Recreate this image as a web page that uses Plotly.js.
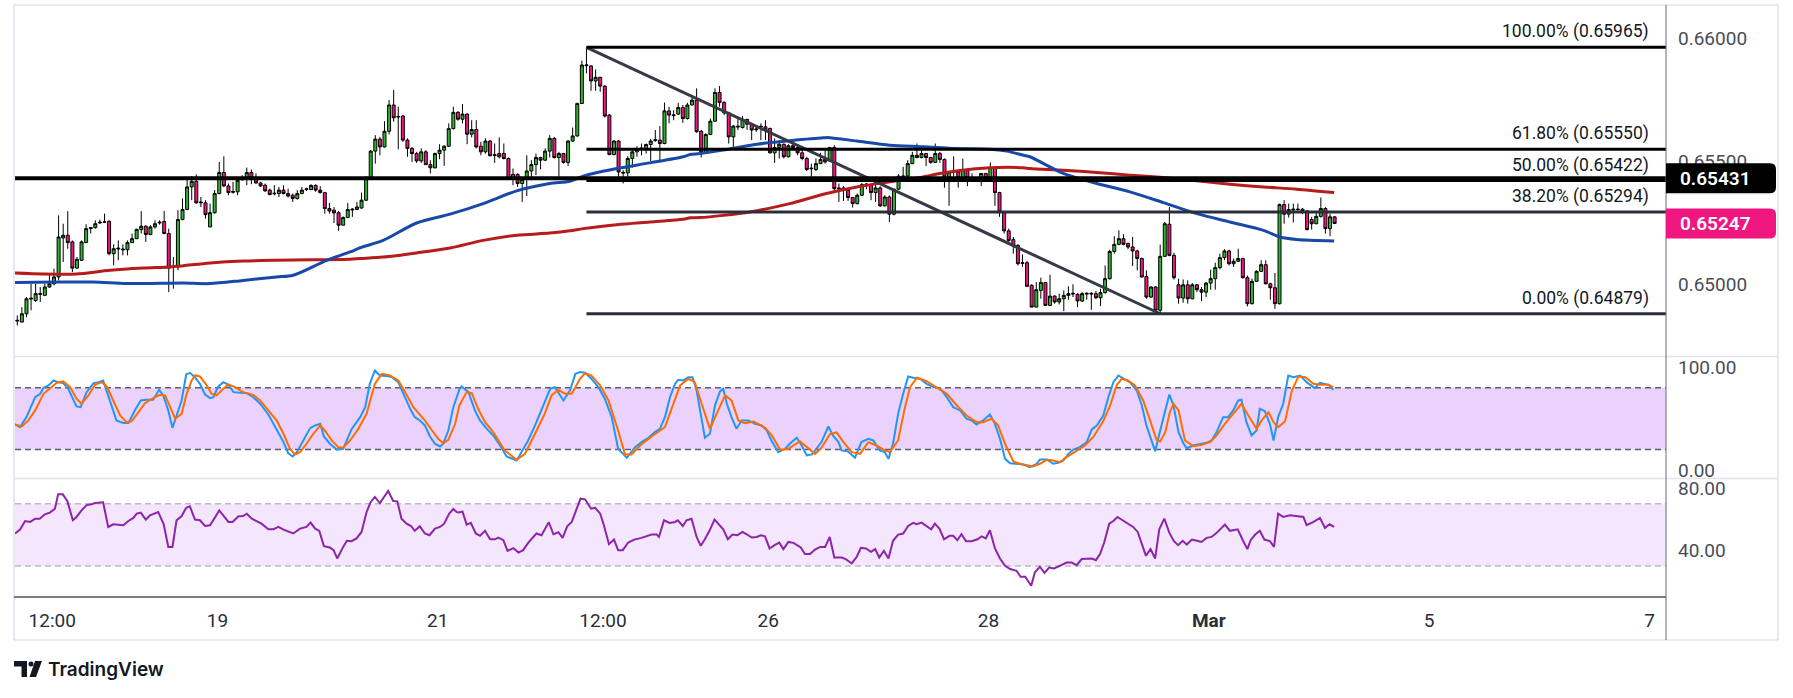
<!DOCTYPE html>
<html><head><meta charset="utf-8">
<script src="https://cdn.plot.ly/plotly-3.0.1.min.js"></script>
<style>html,body{margin:0;padding:0;background:#fff;overflow:hidden}#chart{width:1793px;height:698px}</style>
</head><body><div id="chart"></div>
<script>
// ---------------- DATA ----------------
// hourly candles, x = bar index
const open = [
0.64849,0.64845,0.64879,0.64939,0.64933,0.64958,0.64954,0.64988,0.65001,0.65029,
0.65188,0.65199,0.65172,0.65065,0.65097,0.65169,0.65226,0.65230,0.65249,0.65252,
0.65256,0.65124,0.65143,0.65143,0.65140,0.65169,0.65185,0.65222,0.65236,0.65202,
0.65233,0.65249,0.65255,0.65206,0.65068,0.65070,0.65263,0.65304,0.65396,0.65419,
0.65331,0.65331,0.65233,0.65291,0.65369,0.65455,0.65400,0.65374,0.65376,0.65425,
0.65430,0.65455,0.65430,0.65412,0.65403,0.65383,0.65368,0.65369,0.65383,0.65369,
0.65362,0.65349,0.65369,0.65385,0.65385,0.65402,0.65383,0.65373,0.65308,0.65301,
0.65291,0.65240,0.65271,0.65302,0.65304,0.65310,0.65342,0.65430,0.65542,0.65591,
0.65559,0.65623,0.65730,0.65681,0.65685,0.65587,0.65553,0.65532,0.65502,0.65539,
0.65487,0.65474,0.65532,0.65546,0.65562,0.65634,0.65700,0.65672,0.65693,0.65611,
0.65630,0.65562,0.65539,0.65583,0.65524,0.65532,0.65532,0.65512,0.65447,0.65447,
0.65410,0.65426,0.65461,0.65487,0.65516,0.65505,0.65542,0.65594,0.65516,0.65532,
0.65496,0.65583,0.65604,0.65736,0.65890,0.65889,0.65828,0.65843,0.65807,0.65689,
0.65528,0.65583,0.65452,0.65453,0.65512,0.65539,0.65551,0.65553,0.65569,0.65585,
0.65587,0.65573,0.65706,0.65690,0.65693,0.65720,0.65675,0.65730,0.65750,0.65623,
0.65535,0.65610,0.65664,0.65781,0.65740,0.65698,0.65600,0.65640,0.65638,0.65671,
0.65652,0.65629,0.65640,0.65641,0.65634,0.65535,0.65557,0.65570,0.65519,0.65564,
0.65557,0.65535,0.65512,0.65470,0.65467,0.65491,0.65508,0.65502,0.65557,0.65388,
0.65392,0.65383,0.65353,0.65328,0.65362,0.65404,0.65403,0.65373,0.65392,0.65319,
0.65355,0.65285,0.65387,0.65438,0.65440,0.65491,0.65525,0.65516,0.65532,0.65516,
0.65496,0.65532,0.65508,0.65437,0.65456,0.65457,0.65434,0.65467,0.65432,0.65433,
0.65433,0.65451,0.65433,0.65475,0.65373,0.65294,0.65217,0.65181,0.65158,0.65084,
0.65087,0.64995,0.64906,0.64974,0.65006,0.64913,0.64951,0.64927,0.64940,0.64954,
0.64959,0.64958,0.64931,0.64959,0.64959,0.64961,0.64944,0.64965,0.65022,0.65133,
0.65162,0.65185,0.65165,0.65151,0.65135,0.65104,0.65031,0.64947,0.64988,0.64893,
0.65113,0.65244,0.65117,0.64997,0.64943,0.64997,0.64940,0.64997,0.64977,0.64967,
0.65004,0.65022,0.65067,0.65108,0.65135,0.65083,0.65093,0.65104,0.65026,0.64920,
0.65011,0.65052,0.65079,0.65001,0.64985,0.64920,0.65324,0.65285,0.65302,0.65304,
0.65305,0.65298,0.65263,0.65246,0.65276,0.65308,0.65226,0.65274];
const high = [
0.64872,0.64906,0.64947,0.65001,0.65001,0.64988,0.65001,0.65042,0.65063,0.65280,
0.65246,0.65297,0.65178,0.65110,0.65178,0.65244,0.65233,0.65260,0.65263,0.65287,
0.65260,0.65162,0.65178,0.65162,0.65178,0.65206,0.65226,0.65297,0.65240,0.65240,
0.65260,0.65260,0.65298,0.65226,0.65110,0.65301,0.65349,0.65437,0.65440,0.65447,
0.65355,0.65342,0.65328,0.65383,0.65498,0.65521,0.65410,0.65417,0.65426,0.65444,
0.65475,0.65467,0.65451,0.65417,0.65410,0.65389,0.65403,0.65396,0.65403,0.65389,
0.65369,0.65383,0.65396,0.65393,0.65407,0.65407,0.65399,0.65376,0.65331,0.65314,
0.65298,0.65276,0.65331,0.65310,0.65335,0.65373,0.65440,0.65546,0.65607,0.65600,
0.65664,0.65750,0.65791,0.65723,0.65689,0.65594,0.65559,0.65539,0.65553,0.65546,
0.65505,0.65536,0.65570,0.65566,0.65655,0.65723,0.65705,0.65734,0.65696,0.65668,
0.65668,0.65580,0.65594,0.65587,0.65573,0.65598,0.65573,0.65516,0.65471,0.65451,
0.65437,0.65525,0.65505,0.65532,0.65519,0.65553,0.65607,0.65600,0.65539,0.65535,
0.65587,0.65638,0.65740,0.65911,0.65965,0.65893,0.65875,0.65845,0.65811,0.65693,
0.65587,0.65587,0.65464,0.65521,0.65546,0.65562,0.65573,0.65573,0.65592,0.65628,
0.65644,0.65740,0.65723,0.65709,0.65739,0.65730,0.65739,0.65764,0.65798,0.65628,
0.65614,0.65675,0.65798,0.65807,0.65747,0.65702,0.65648,0.65682,0.65685,0.65675,
0.65655,0.65648,0.65655,0.65668,0.65638,0.65594,0.65587,0.65573,0.65570,0.65589,
0.65570,0.65546,0.65519,0.65491,0.65512,0.65535,0.65553,0.65559,0.65566,0.65410,
0.65399,0.65385,0.65355,0.65369,0.65412,0.65412,0.65407,0.65410,0.65399,0.65362,
0.65362,0.65389,0.65448,0.65478,0.65505,0.65539,0.65573,0.65553,0.65535,0.65519,
0.65573,0.65539,0.65512,0.65461,0.65521,0.65464,0.65512,0.65471,0.65451,0.65436,
0.65453,0.65453,0.65496,0.65481,0.65376,0.65298,0.65226,0.65192,0.65162,0.65121,
0.65094,0.64999,0.65008,0.65026,0.65008,0.65038,0.64954,0.64961,0.64974,0.64991,
0.64999,0.64963,0.64967,0.64967,0.64967,0.64972,0.64981,0.65076,0.65140,0.65195,
0.65219,0.65203,0.65169,0.65192,0.65140,0.65108,0.65056,0.64991,0.64992,0.65161,
0.65253,0.65314,0.65128,0.65022,0.65019,0.65015,0.65004,0.65001,0.64988,0.65008,
0.65059,0.65087,0.65124,0.65142,0.65140,0.65104,0.65144,0.65108,0.65035,0.65022,
0.65056,0.65097,0.65097,0.65006,0.65045,0.65328,0.65342,0.65328,0.65328,0.65328,
0.65310,0.65301,0.65274,0.65291,0.65353,0.65314,0.65287,0.65276];
const low = [
0.64831,0.64844,0.64865,0.64893,0.64927,0.64927,0.64954,0.64985,0.64995,0.65015,
0.65090,0.65144,0.65049,0.65063,0.65094,0.65168,0.65206,0.65226,0.65246,0.65249,
0.65117,0.65076,0.65097,0.65117,0.65117,0.65168,0.65184,0.65206,0.65172,0.65199,
0.65226,0.65242,0.65203,0.64967,0.64981,0.65056,0.65260,0.65301,0.65342,0.65328,
0.65314,0.65267,0.65233,0.65287,0.65366,0.65396,0.65362,0.65369,0.65362,0.65423,
0.65403,0.65407,0.65410,0.65396,0.65376,0.65362,0.65362,0.65355,0.65366,0.65353,
0.65335,0.65344,0.65366,0.65380,0.65383,0.65376,0.65369,0.65287,0.65287,0.65249,
0.65217,0.65240,0.65270,0.65274,0.65301,0.65308,0.65338,0.65426,0.65491,0.65525,
0.65557,0.65610,0.65662,0.65549,0.65580,0.65519,0.65498,0.65494,0.65494,0.65485,
0.65451,0.65471,0.65509,0.65482,0.65559,0.65630,0.65666,0.65655,0.65570,0.65598,
0.65553,0.65525,0.65532,0.65521,0.65494,0.65512,0.65508,0.65427,0.65403,0.65396,
0.65335,0.65359,0.65423,0.65444,0.65468,0.65502,0.65516,0.65512,0.65437,0.65491,
0.65481,0.65580,0.65600,0.65734,0.65859,0.65788,0.65788,0.65784,0.65679,0.65525,
0.65525,0.65437,0.65410,0.65437,0.65475,0.65519,0.65525,0.65532,0.65502,0.65580,
0.65498,0.65570,0.65655,0.65668,0.65689,0.65657,0.65671,0.65728,0.65617,0.65516,
0.65532,0.65607,0.65662,0.65723,0.65689,0.65573,0.65546,0.65628,0.65634,0.65628,
0.65587,0.65621,0.65587,0.65587,0.65532,0.65494,0.65512,0.65512,0.65516,0.65553,
0.65525,0.65505,0.65461,0.65437,0.65461,0.65489,0.65491,0.65498,0.65376,0.65335,
0.65339,0.65339,0.65312,0.65325,0.65359,0.65387,0.65342,0.65335,0.65314,0.65316,
0.65253,0.65280,0.65383,0.65423,0.65437,0.65489,0.65512,0.65512,0.65481,0.65491,
0.65494,0.65494,0.65393,0.65319,0.65437,0.65393,0.65433,0.65399,0.65429,0.65430,
0.65400,0.65430,0.65430,0.65319,0.65274,0.65206,0.65162,0.65124,0.65076,0.65070,
0.64988,0.64906,0.64906,0.64940,0.64910,0.64910,0.64920,0.64917,0.64890,0.64936,
0.64947,0.64906,0.64927,0.64936,0.64895,0.64940,0.64910,0.64961,0.65018,0.65124,
0.65158,0.65158,0.65142,0.65074,0.65056,0.65026,0.64940,0.64944,0.64879,0.64879,
0.65110,0.65113,0.65018,0.64920,0.64924,0.64920,0.64938,0.64967,0.64931,0.64947,
0.64977,0.64977,0.65060,0.65097,0.65076,0.65070,0.65090,0.65022,0.64909,0.64917,
0.65008,0.65049,0.64999,0.64936,0.64899,0.64917,0.65246,0.65271,0.65251,0.65298,
0.65285,0.65219,0.65222,0.65244,0.65271,0.65206,0.65195,0.65246];
const close = [
0.64852,0.64879,0.64940,0.64942,0.64961,0.64961,0.64988,0.65001,0.65029,0.65192,
0.65199,0.65169,0.65065,0.65101,0.65172,0.65226,0.65230,0.65246,0.65252,0.65253,
0.65124,0.65144,0.65146,0.65140,0.65169,0.65185,0.65223,0.65236,0.65202,0.65233,
0.65246,0.65252,0.65206,0.65065,0.65071,0.65263,0.65304,0.65396,0.65419,0.65331,
0.65334,0.65283,0.65291,0.65369,0.65455,0.65400,0.65373,0.65377,0.65423,0.65427,
0.65455,0.65433,0.65412,0.65400,0.65380,0.65365,0.65370,0.65383,0.65369,0.65359,
0.65349,0.65369,0.65383,0.65388,0.65402,0.65383,0.65373,0.65308,0.65298,0.65290,
0.65240,0.65271,0.65304,0.65305,0.65314,0.65342,0.65430,0.65542,0.65591,0.65559,
0.65623,0.65730,0.65678,0.65683,0.65587,0.65553,0.65532,0.65502,0.65539,0.65487,
0.65474,0.65532,0.65546,0.65562,0.65634,0.65700,0.65672,0.65693,0.65611,0.65630,
0.65559,0.65539,0.65583,0.65523,0.65527,0.65519,0.65512,0.65430,0.65430,0.65410,
0.65426,0.65461,0.65487,0.65516,0.65505,0.65542,0.65594,0.65516,0.65532,0.65496,
0.65583,0.65604,0.65736,0.65893,0.65893,0.65828,0.65843,0.65807,0.65685,0.65528,
0.65583,0.65457,0.65455,0.65512,0.65539,0.65549,0.65554,0.65569,0.65583,0.65588,
0.65573,0.65706,0.65689,0.65687,0.65720,0.65675,0.65730,0.65750,0.65621,0.65535,
0.65610,0.65664,0.65781,0.65740,0.65698,0.65600,0.65644,0.65643,0.65672,0.65652,
0.65628,0.65632,0.65643,0.65628,0.65535,0.65557,0.65570,0.65519,0.65564,0.65557,
0.65535,0.65512,0.65467,0.65472,0.65491,0.65508,0.65498,0.65557,0.65389,0.65391,
0.65383,0.65353,0.65328,0.65362,0.65406,0.65407,0.65373,0.65392,0.65319,0.65355,
0.65285,0.65387,0.65440,0.65440,0.65491,0.65525,0.65516,0.65532,0.65516,0.65496,
0.65532,0.65508,0.65437,0.65457,0.65459,0.65434,0.65467,0.65433,0.65434,0.65434,
0.65451,0.65433,0.65475,0.65373,0.65294,0.65217,0.65178,0.65158,0.65083,0.65087,
0.64991,0.64906,0.64977,0.65006,0.64913,0.64951,0.64927,0.64940,0.64954,0.64961,
0.64962,0.64931,0.64961,0.64962,0.64962,0.64944,0.64965,0.65022,0.65133,0.65162,
0.65185,0.65162,0.65151,0.65135,0.65104,0.65029,0.64947,0.64988,0.64893,0.65113,
0.65246,0.65117,0.65026,0.64943,0.64997,0.64940,0.64997,0.64977,0.64967,0.65004,
0.65022,0.65067,0.65108,0.65135,0.65083,0.65093,0.65104,0.65026,0.64920,0.65011,
0.65052,0.65079,0.65001,0.64985,0.64920,0.65324,0.65285,0.65304,0.65305,0.65305,
0.65298,0.65222,0.65246,0.65276,0.65308,0.65226,0.65274,0.65247];

// moving averages (blue = faster, red = slower), sampled along the curve
const maFastX = [-0.5,9.3,16.6,23.8,31.1,36.2,42.0,49.2,56.5,60.1,67.4,72.5,74.7,79.7,87.0,94.3,101.5,108.8,116.0,120.4,123.3,130.6,137.8,145.1,146.6,148.7,153.8,161.1,168.3,175.6,177.0,182.9,190.1,197.4,204.6,211.9,215.6,219.2,220.6,227.9,235.2,242.4,249.7,257.0,264.2,271.5,275.1,278.7,286.9];
const maFast = [0.65006,0.65008,0.65008,0.65002,0.65003,0.65004,0.65002,0.65015,0.65029,0.65036,0.65097,0.65131,0.65148,0.65178,0.65249,0.65285,0.65328,0.65380,0.65410,0.65419,0.65440,0.65471,0.65494,0.65519,0.65528,0.65532,0.65546,0.65570,0.65584,0.65596,0.65597,0.65583,0.65566,0.65560,0.65553,0.65550,0.65542,0.65525,0.65519,0.65451,0.65410,0.65376,0.65332,0.65287,0.65253,0.65219,0.65192,0.65182,0.65176];
const maSlowX = [-0.5,5.7,12.9,20.2,27.5,33.3,36.2,42.0,49.2,56.5,63.8,72.5,74.7,79.7,87.0,94.3,101.5,108.8,116.0,120.4,123.3,130.6,137.8,145.1,146.6,148.7,153.8,159.6,168.3,175.6,182.9,190.1,197.4,201.0,204.6,211.9,219.2,220.6,227.9,235.2,242.4,249.7,257.0,264.2,271.5,278.7,286.9];
const maSlow = [0.65045,0.65041,0.65041,0.65056,0.65065,0.65070,0.65075,0.65086,0.65094,0.65097,0.65099,0.65101,0.65104,0.65110,0.65127,0.65147,0.65178,0.65199,0.65208,0.65217,0.65226,0.65242,0.65253,0.65264,0.65270,0.65271,0.65280,0.65294,0.65328,0.65366,0.65396,0.65417,0.65437,0.65451,0.65461,0.65474,0.65474,0.65471,0.65464,0.65455,0.65444,0.65434,0.65421,0.65407,0.65396,0.65387,0.65373];

// Fibonacci retracement drawing
const fibPct = [100, 61.8, 50, 38.2, 0];
const fibLevel = [0.65965, 0.65550, 0.65422, 0.65294, 0.64879];
const fibStart = 124;
// trend line drawing
const trendX = [124, 249];
const trendY = [0.65965, 0.64879];
// horizontal level + last price
const hLevel = 0.65431;
const lastPrice = 0.65247;

// Stochastic %K / %D  [bar, value]
const stochK = [[-0.5,44.4],[0.6,41.8],[2.0,51.5],[3.9,70.9],[5.0,74.2],[5.7,80.0],[6.8,82.3],[7.9,87.2],[8.9,85.5],[10.0,84.6],[11.1,79.0],[12.9,61.9],[13.8,61.2],[15.1,75.8],[16.6,84.6],[17.7,85.5],[18.7,87.2],[20.2,67.7],[21.6,48.3],[23.1,45.7],[24.2,45.7],[25.6,58.0],[26.9,67.7],[28.2,68.4],[29.6,68.4],[30.9,78.1],[31.8,72.6],[32.9,58.0],[33.8,41.1],[34.7,53.1],[35.8,67.7],[36.8,93.0],[37.6,94.6],[38.7,90.4],[39.8,83.9],[40.9,73.5],[42.0,70.0],[42.7,71.0],[43.8,81.3],[44.9,85.5],[46.0,82.9],[47.1,75.8],[48.5,75.2],[50.0,74.8],[51.4,70.9],[52.9,64.5],[54.7,54.1],[56.5,40.1],[58.0,27.2],[59.0,16.5],[60.0,13.2],[60.9,17.4],[62.3,28.8],[63.8,40.8],[64.9,43.4],[66.0,45.0],[66.8,32.7],[68.1,25.6],[69.6,20.0],[71.0,20.7],[72.8,39.5],[74.7,51.5],[75.8,61.2],[76.8,83.9],[77.9,96.9],[79.0,92.0],[80.5,91.4],[81.6,90.4],[83.0,85.5],[84.1,74.2],[85.6,59.6],[86.6,51.5],[87.7,48.3],[88.8,43.4],[89.9,32.7],[91.0,25.6],[92.1,23.0],[92.8,25.6],[93.9,38.5],[95.0,61.2],[96.3,78.1],[96.8,81.3],[98.3,75.8],[99.7,58.0],[100.8,48.3],[102.3,40.1],[103.7,33.7],[105.2,23.9],[106.6,13.2],[108.8,9.3],[109.9,17.4],[111.3,28.8],[112.8,43.4],[114.2,58.0],[116.1,79.0],[117.1,80.7],[119.0,67.7],[120.4,77.4],[121.6,93.6],[122.6,95.3],[123.7,94.6],[125.1,88.8],[126.6,80.7],[128.0,69.4],[129.5,51.5],[130.9,20.7],[132.8,11.9],[134.6,22.3],[136.0,27.2],[137.5,31.4],[138.9,36.9],[140.0,40.1],[141.1,51.5],[142.2,70.9],[143.3,83.9],[144.0,87.8],[145.1,87.2],[146.2,90.4],[147.1,90.4],[148.0,77.4],[149.1,51.5],[149.8,31.4],[150.9,35.3],[152.0,62.8],[153.1,76.5],[153.8,79.0],[154.6,64.5],[155.6,51.5],[156.7,40.1],[157.8,48.3],[159.3,48.3],[160.7,45.0],[162.2,43.4],[163.3,38.5],[164.3,28.8],[165.8,17.4],[167.3,20.7],[168.3,25.6],[169.8,31.4],[170.9,23.9],[172.0,14.2],[173.1,15.2],[174.1,20.7],[175.2,27.2],[176.7,42.4],[177.7,33.7],[178.9,27.2],[179.6,19.1],[181.0,18.1],[182.5,11.9],[183.9,27.2],[185.4,30.4],[186.5,28.8],[187.9,19.1],[189.0,17.4],[189.8,10.9],[190.8,25.6],[191.9,54.7],[193.0,74.2],[194.1,91.0],[195.2,89.8],[196.7,88.8],[198.1,83.9],[199.6,80.7],[201.0,79.7],[202.5,70.9],[203.9,61.2],[205.4,58.0],[206.8,49.9],[207.9,48.3],[209.0,44.4],[210.4,48.3],[211.9,54.1],[213.0,45.0],[214.1,30.4],[215.2,10.9],[216.3,6.7],[217.7,6.1],[219.2,5.4],[220.6,2.9],[222.1,6.1],[222.8,10.3],[224.3,10.3],[225.7,6.1],[226.8,7.1],[227.9,9.3],[229.0,15.8],[230.1,20.0],[231.5,22.3],[233.0,27.2],[234.1,39.5],[235.2,43.4],[236.6,53.1],[237.7,70.9],[238.8,85.5],[239.9,92.0],[241.0,88.8],[242.4,85.5],[243.9,77.4],[245.0,62.8],[246.0,43.4],[247.1,28.8],[247.9,18.4],[249.0,38.5],[250.1,58.0],[251.0,73.5],[251.9,62.8],[253.0,36.9],[254.1,25.6],[254.8,21.3],[256.2,23.9],[257.7,24.9],[259.1,26.5],[260.2,28.8],[261.3,36.9],[262.7,51.5],[263.8,51.5],[264.9,58.0],[266.0,67.7],[266.7,68.4],[267.8,46.6],[268.9,33.7],[270.0,38.5],[270.7,59.6],[271.8,57.3],[272.9,45.0],[273.7,28.8],[274.7,51.5],[275.8,64.5],[276.9,92.0],[278.0,90.4],[279.5,92.0],[280.9,85.5],[282.7,79.7],[283.8,84.9],[285.7,82.9],[286.7,78.1]];
const stochD = [[-0.5,44.4],[1.0,42.4],[2.4,48.3],[3.9,58.0],[5.7,74.2],[7.1,79.7],[8.6,84.9],[10.0,86.2],[11.5,80.7],[12.9,69.4],[14.0,64.5],[15.5,72.6],[16.9,82.9],[18.4,85.5],[19.5,81.3],[20.9,67.7],[22.4,53.1],[23.8,46.6],[24.9,47.3],[26.4,56.3],[27.8,65.1],[29.6,70.0],[31.1,73.2],[32.2,72.6],[33.3,61.2],[34.4,49.9],[35.8,54.7],[36.9,74.2],[38.0,87.2],[38.7,92.0],[39.8,91.0],[41.3,82.3],[42.3,74.2],[43.4,72.6],[44.9,79.0],[46.0,83.3],[47.4,80.7],[49.2,75.8],[51.4,73.2],[52.9,67.7],[55.0,56.3],[56.5,48.3],[58.0,35.3],[59.4,20.7],[60.5,15.2],[61.6,17.4],[63.0,25.6],[64.5,35.3],[66.0,43.4],[67.0,38.5],[68.5,28.8],[69.9,22.3],[71.0,21.7],[72.5,28.8],[74.3,40.1],[76.1,54.7],[77.9,83.9],[79.4,93.6],[81.2,92.0],[83.0,87.2],[84.5,75.8],[86.3,61.2],[88.5,49.9],[89.9,41.8],[91.7,30.4],[92.8,26.2],[93.9,29.4],[95.4,45.0],[96.3,62.8],[97.9,75.8],[99.0,74.8],[100.4,59.6],[101.9,46.6],[103.7,36.9],[106.2,19.1],[108.8,10.0],[110.6,15.8],[112.8,35.3],[114.9,54.7],[116.4,72.6],[117.9,78.1],[119.3,74.2],[120.8,74.2],[122.6,88.8],[123.7,94.3],[125.1,92.0],[127.0,82.3],[128.8,67.7],[130.9,38.5],[132.4,15.2],[133.8,15.2],[135.7,23.9],[138.2,32.7],[141.1,41.8],[142.9,62.8],[144.4,82.3],[146.2,88.8],[147.6,85.5],[149.1,64.5],[150.9,40.1],[152.7,58.0],[154.2,72.6],[155.6,67.7],[157.1,48.3],[158.5,45.7],[160.4,47.3],[162.9,41.1],[164.4,33.7],[166.2,19.7],[168.0,20.7],[170.5,28.1],[172.4,20.7],[173.8,15.8],[175.2,21.7],[177.1,35.3],[178.5,36.6],[180.0,27.2],[181.8,17.4],[183.6,15.8],[185.4,27.2],[187.2,23.9],[189.0,19.1],[190.1,17.4],[191.9,28.8],[193.4,61.2],[194.5,80.7],[196.0,89.8],[198.1,86.5],[200.3,80.7],[202.5,74.2],[204.7,62.8],[206.8,53.1],[209.0,46.6],[210.4,46.6],[212.3,49.9],[213.7,43.4],[215.2,25.6],[217.0,8.4],[218.4,6.1],[219.9,5.1],[221.3,3.5],[222.8,6.1],[224.3,10.0],[225.7,9.3],[227.2,7.7],[228.6,12.6],[230.8,19.1],[232.6,23.9],[234.4,32.0],[236.6,47.6],[238.1,62.8],[239.5,82.3],[240.6,88.8],[242.0,87.2],[243.5,82.3],[245.3,67.7],[246.8,48.3],[248.2,29.4],[249.0,27.8],[250.1,36.9],[251.1,56.3],[251.9,64.5],[253.0,58.0],[254.4,28.8],[256.2,23.3],[258.0,24.6],[259.9,27.2],[261.3,33.7],[263.1,45.0],[264.9,54.7],[266.7,64.5],[268.2,53.1],[270.0,40.1],[271.1,48.3],[272.6,56.3],[273.7,46.6],[274.7,41.8],[276.2,47.3],[277.7,77.4],[279.1,91.0],[280.6,90.4],[282.4,83.9],[283.8,82.9],[285.7,82.9],[286.7,80.7]];
// RSI [bar, value]
const rsi = [[-0.5,50.9],[0.6,53.4],[1.7,58.9],[2.8,58.3],[3.9,60.4],[4.9,60.4],[6.0,63.2],[7.1,64.3],[8.2,66.8],[8.9,76.0],[9.9,76.0],[10.9,71.7],[12.1,59.4],[12.9,61.5],[14.0,65.7],[15.1,69.1],[16.2,69.6],[16.9,70.4],[18.7,70.9],[19.8,55.1],[20.9,56.8],[23.1,56.2],[24.2,58.9],[25.3,60.9],[26.0,63.6],[26.9,64.3],[28.0,59.8],[28.9,62.6],[30.7,64.7],[31.9,56.8],[32.9,42.3],[33.8,42.3],[34.7,59.4],[35.8,62.1],[36.8,67.4],[37.6,68.3],[38.7,59.8],[39.8,59.4],[40.9,55.7],[42.0,56.2],[44.0,65.7],[44.9,62.1],[46.0,58.3],[46.9,58.3],[48.2,61.9],[49.2,62.1],[50.0,63.6],[51.1,60.4],[52.1,58.9],[53.2,57.2],[54.7,53.6],[55.8,53.6],[56.9,55.1],[58.0,53.4],[60.1,50.9],[61.6,54.0],[63.0,55.1],[63.9,57.9],[64.9,54.0],[65.8,52.6],[66.8,42.8],[68.1,41.9],[68.9,40.2],[69.7,34.9],[71.0,42.3],[71.8,46.2],[72.8,46.0],[73.9,47.7],[75.0,51.9],[76.1,64.7],[77.0,71.1],[77.9,74.3],[79.0,70.4],[80.8,78.1],[81.9,71.7],[82.8,71.5],[83.7,60.4],[84.8,57.2],[85.8,55.7],[86.6,52.6],[87.7,55.5],[88.8,50.9],[89.8,49.8],[91.0,54.0],[92.1,55.1],[93.0,57.2],[94.1,63.6],[95.0,66.6],[95.7,64.7],[96.1,64.3],[97.0,64.9],[97.9,56.6],[98.8,57.7],[99.9,50.9],[100.8,49.4],[101.9,52.6],[103.0,47.2],[104.1,47.2],[104.8,48.3],[105.9,46.6],[106.8,39.8],[108.1,41.5],[109.2,38.7],[110.2,40.2],[111.3,44.9],[113.1,50.9],[114.2,49.8],[115.8,58.1],[116.8,50.4],[117.9,51.7],[118.8,48.1],[119.8,55.5],[120.8,58.3],[121.9,66.4],[122.7,73.2],[123.7,72.8],[125.0,66.8],[125.9,67.4],[127.0,63.6],[127.8,56.2],[128.9,44.0],[130.0,47.0],[130.9,40.2],[131.9,40.2],[133.1,45.1],[134.4,47.0],[136.0,48.1],[138.2,50.2],[139.3,50.2],[139.8,48.7],[140.9,59.4],[142.1,57.7],[143.3,58.3],[143.9,59.4],[145.0,55.7],[145.8,59.4],[146.9,60.4],[148.0,48.7],[148.9,43.0],[149.8,47.2],[150.8,52.6],[151.9,59.8],[152.7,57.2],[153.8,53.6],[154.8,47.2],[155.8,50.2],[156.9,49.8],[158.0,51.9],[158.9,50.4],[160.0,48.3],[161.1,48.7],[162.0,49.8],[162.9,49.1],[163.9,41.3],[165.0,43.4],[166.0,45.1],[166.9,40.9],[168.0,45.5],[169.1,44.9],[170.7,41.9],[171.6,37.7],[172.7,37.7],[173.8,40.6],[174.9,42.3],[176.0,42.3],[177.0,48.7],[178.0,35.5],[179.6,35.5],[180.5,34.5],[181.8,31.7],[182.9,36.0],[183.8,41.7],[184.9,41.3],[186.0,39.1],[186.9,40.9],[187.8,35.5],[188.8,39.8],[189.8,34.9],[190.8,46.2],[191.9,50.2],[193.0,50.9],[194.1,55.7],[195.2,57.7],[195.9,56.8],[197.0,57.9],[198.1,55.7],[199.1,53.6],[199.9,57.2],[200.9,54.0],[201.9,47.2],[203.1,49.4],[203.9,49.4],[204.8,46.6],[205.7,50.4],[206.7,46.0],[207.9,46.0],[209.2,47.2],[210.1,49.1],[211.0,47.7],[211.9,53.0],[213.0,41.3],[214.1,34.9],[215.2,30.2],[216.3,28.1],[217.7,27.0],[218.6,23.2],[219.6,23.2],[220.9,17.4],[221.7,26.0],[222.8,29.6],[223.8,25.7],[224.8,29.1],[225.9,28.5],[227.0,30.0],[228.6,32.3],[229.7,32.3],[230.8,30.6],[231.9,34.5],[233.0,34.5],[234.1,34.9],[235.0,33.8],[235.9,37.7],[236.8,45.1],[237.9,57.2],[238.8,58.9],[239.7,61.5],[240.8,59.4],[242.1,57.2],[243.1,55.1],[244.1,51.9],[245.0,44.9],[245.9,36.6],[246.9,40.9],[247.9,34.9],[248.8,53.6],[249.9,60.4],[251.0,51.3],[252.0,46.0],[252.9,43.4],[253.9,46.2],[254.8,43.8],[255.9,47.0],[257.0,46.2],[258.0,45.5],[259.1,48.1],[260.2,48.7],[261.3,51.3],[262.4,54.5],[263.1,56.6],[264.2,52.6],[265.9,53.6],[267.0,46.6],[268.0,40.9],[268.7,46.6],[269.7,50.2],[270.7,52.6],[271.7,47.0],[272.9,46.0],[273.8,42.3],[274.7,63.6],[275.8,61.5],[277.3,62.6],[279.1,62.1],[280.2,61.5],[280.9,56.2],[282.4,58.3],[283.8,60.9],[284.9,54.5],[285.9,56.8],[286.9,55.1]];

// axis ticks
const priceTicks = [0.65000, 0.65500, 0.66000];
const stochTicks = [0, 100];
const rsiTicks = [40, 80];
const timeTickBars = [7.6, 43.6, 91.6, 127.6, 163.6, 211.6, 259.6, 307.6, 355.6];
const timeTickLabels = ['12:00', '19', '21', '12:00', '26', '28', '<b>Mar</b>', '5', '7'];

// ---------------- LAYOUT / STYLE ----------------
const W = 1793, H = 698;
const PX = v => v / W, PY = v => 1 - v / H;
const LEFT = 15, RIGHT = 1666, FRAME_R = 1778, TOP = 5, MAIN_B = 356.5, ST_B = 478.5, RSI_B = 597, BOTTOM = 640;
const XR = [-0.5, 359.2];
const GREEN = '#2db52d', PINK = '#f0167f';
const TXT = '#4a4d57';
const FONT = 'Roboto, "Noto Sans", sans-serif';

const bars = close.map((_, i) => i);
const traces = [
  {type: 'candlestick', x: bars, open: open, high: high, low: low, close: close,
   xaxis: 'x', yaxis: 'y',
   increasing: {line: {color: '#000', width: 1}, fillcolor: GREEN},
   decreasing: {line: {color: '#000', width: 1}, fillcolor: PINK},
   whiskerwidth: 0, hoverinfo: 'skip', showlegend: false},
  {type: 'scatter', mode: 'lines', x: maSlowX, y: maSlow, xaxis: 'x', yaxis: 'y',
   line: {color: '#b71c1c', width: 3, shape: 'spline', smoothing: 0.8}, hoverinfo: 'skip', showlegend: false},
  {type: 'scatter', mode: 'lines', x: maFastX, y: maFast, xaxis: 'x', yaxis: 'y',
   line: {color: '#1848a8', width: 3, shape: 'spline', smoothing: 0.8}, hoverinfo: 'skip', showlegend: false},
  {type: 'scatter', mode: 'lines', x: trendX, y: trendY, xaxis: 'x', yaxis: 'y',
   line: {color: '#363a45', width: 3}, hoverinfo: 'skip', showlegend: false},
  {type: 'scatter', mode: 'lines', x: stochK.map(p => p[0]), y: stochK.map(p => p[1]), xaxis: 'x2', yaxis: 'y2',
   line: {color: '#2196f3', width: 2}, hoverinfo: 'skip', showlegend: false},
  {type: 'scatter', mode: 'lines', x: stochD.map(p => p[0]), y: stochD.map(p => p[1]), xaxis: 'x2', yaxis: 'y2',
   line: {color: '#ff6d00', width: 2}, hoverinfo: 'skip', showlegend: false},
  {type: 'scatter', mode: 'lines', x: rsi.map(p => p[0]), y: rsi.map(p => p[1]), xaxis: 'x3', yaxis: 'y3',
   line: {color: '#8e24aa', width: 2}, hoverinfo: 'skip', showlegend: false}
];

const fibColors = ['#000000', '#000000', '#000000', '#2a2e39', '#2a2e39'];
const shapes = [];
const annotations = [];

// fib lines + labels
fibLevel.forEach((lv, k) => {
  shapes.push({type: 'line', xref: 'x', yref: 'y', x0: fibStart, x1: XR[1], y0: lv, y1: lv,
    line: {color: fibColors[k], width: 3}, layer: 'above'});
  annotations.push({xref: 'paper', yref: 'y', x: PX(1651), y: lv, xanchor: 'right', yanchor: 'bottom', yshift: 3,
    text: fibPct[k].toFixed(2) + '% (' + lv.toFixed(5) + ')', showarrow: false,
    font: {family: FONT, size: 17.5, color: '#131722'}});
});
// horizontal level line
shapes.push({type: 'line', xref: 'paper', yref: 'y', x0: PX(LEFT), x1: PX(RIGHT), y0: hLevel, y1: hLevel,
  line: {color: '#000', width: 4}, layer: 'above'});

// oscillator bands and dashed levels
shapes.push({type: 'rect', xref: 'paper', yref: 'y2', x0: PX(LEFT), x1: PX(RIGHT), y0: 20, y1: 80,
  fillcolor: '#ebd2fc', line: {width: 0}, layer: 'below'});
[20, 80].forEach(v => shapes.push({type: 'line', xref: 'paper', yref: 'y2', x0: PX(LEFT), x1: PX(RIGHT), y0: v, y1: v,
  line: {color: '#5d606b', width: 1.5, dash: '6px,4px'}, layer: 'below'}));
shapes.push({type: 'rect', xref: 'paper', yref: 'y3', x0: PX(LEFT), x1: PX(RIGHT), y0: 30, y1: 70,
  fillcolor: '#f4e6fd', line: {width: 0}, layer: 'below'});
[30, 70].forEach(v => shapes.push({type: 'line', xref: 'paper', yref: 'y3', x0: PX(LEFT), x1: PX(RIGHT), y0: v, y1: v,
  line: {color: '#b8bac2', width: 1.5, dash: '6px,4px'}, layer: 'below'}));

// pane separators, frame, price-scale border, time-axis line
[MAIN_B, ST_B].forEach(yy => shapes.push({type: 'line', xref: 'paper', yref: 'paper', x0: PX(LEFT - 1), x1: PX(FRAME_R), y0: PY(yy), y1: PY(yy),
  line: {color: '#e0e3eb', width: 1.5}, layer: 'above'}));
shapes.push({type: 'rect', xref: 'paper', yref: 'paper', x0: PX(LEFT - 1), x1: PX(FRAME_R), y0: PY(BOTTOM), y1: PY(TOP),
  line: {color: '#e0e3eb', width: 1.5}, fillcolor: 'rgba(0,0,0,0)', layer: 'above'});
shapes.push({type: 'line', xref: 'paper', yref: 'paper', x0: PX(RIGHT), x1: PX(RIGHT), y0: PY(BOTTOM), y1: PY(TOP),
  line: {color: '#6a6d78', width: 1}, layer: 'above'});
shapes.push({type: 'line', xref: 'paper', yref: 'paper', x0: PX(LEFT - 1), x1: PX(RIGHT), y0: PY(RSI_B), y1: PY(RSI_B),
  line: {color: '#50535e', width: 1.5}, layer: 'above'});

// price labels on the scale
const boxPath = 'M0,-15 L104,-15 Q110,-15 110,-9 L110,9 Q110,15 104,15 L0,15 Z';
[[hLevel, '#000000'], [lastPrice, PINK]].forEach(([v, c]) => {
  shapes.push({type: 'path', xref: 'paper', yref: 'y', xsizemode: 'pixel', ysizemode: 'pixel',
    xanchor: PX(RIGHT), yanchor: v, path: boxPath, fillcolor: c, line: {width: 0}, layer: 'above'});
  annotations.push({xref: 'paper', yref: 'y', x: PX(RIGHT + 12), y: v, xanchor: 'left', yanchor: 'middle',
    text: v.toFixed(5), showarrow: false, font: {family: FONT, size: 19, color: '#ffffff', weight: 600}});
});

// TradingView logo
const P = pts => 'M' + pts.map(p => PX(p[0]) + ',' + PY(p[1])).join(' L') + ' Z';
shapes.push({type: 'path', xref: 'paper', yref: 'paper', path: P([[14, 661], [27, 661], [27, 677], [21.5, 677], [21.5, 666.5], [14, 666.5]]),
  fillcolor: '#131722', line: {width: 0}});
shapes.push({type: 'circle', xref: 'paper', yref: 'paper', x0: PX(28.5), x1: PX(33.5), y0: PY(666.5), y1: PY(661.5),
  fillcolor: '#131722', line: {width: 0}});
shapes.push({type: 'path', xref: 'paper', yref: 'paper', path: P([[35, 661], [42, 661], [36, 677], [29.5, 677]]),
  fillcolor: '#131722', line: {width: 0}});
annotations.push({xref: 'paper', yref: 'paper', x: PX(46), y: PY(669.5), xanchor: 'left', yanchor: 'middle',
  text: 'TradingView', showarrow: false, font: {family: 'Inter, Roboto, sans-serif', size: 19, color: '#131722', weight: 600}});

const axBase = {showgrid: false, zeroline: false, showline: false, fixedrange: true};
const layout = {
  width: W, height: H, margin: {l: 0, r: 0, t: 0, b: 0}, paper_bgcolor: '#fff', plot_bgcolor: 'rgba(0,0,0,0)',
  font: {family: FONT, color: TXT}, showlegend: false, boxgap: 0.35, boxgroupgap: 0,
  xaxis: Object.assign({}, axBase, {domain: [PX(LEFT), PX(RIGHT)], range: XR, anchor: 'y', showticklabels: false, rangeslider: {visible: false}}),
  yaxis: Object.assign({}, axBase, {domain: [PY(MAIN_B), PY(TOP)], range: [0.647047, 0.661377], anchor: 'x', side: 'right',
    tickvals: priceTicks, tickformat: '.5f', ticks: '', ticklabelstandoff: 11, tickfont: {size: 19, color: TXT}}),
  xaxis2: Object.assign({}, axBase, {domain: [PX(LEFT), PX(RIGHT)], range: XR, anchor: 'y2', showticklabels: false}),
  yaxis2: Object.assign({}, axBase, {domain: [PY(ST_B), PY(MAIN_B + 1)], range: [-8.2, 109.5], anchor: 'x2', side: 'right',
    tickvals: stochTicks, tickformat: '.2f', ticks: '', ticklabelstandoff: 11, tickfont: {size: 19, color: TXT}}),
  xaxis3: Object.assign({}, axBase, {domain: [PX(LEFT), PX(RIGHT)], range: XR, anchor: 'y3',
    tickvals: timeTickBars, ticktext: timeTickLabels, ticks: '', ticklabelstandoff: 10, tickfont: {size: 19, color: '#2a2e39'}}),
  yaxis3: Object.assign({}, axBase, {domain: [PY(RSI_B), PY(ST_B + 1)], range: [10.2, 85.5], anchor: 'x3', side: 'right',
    tickvals: rsiTicks, tickformat: '.2f', ticks: '', ticklabelstandoff: 11, tickfont: {size: 19, color: TXT}}),
  shapes: shapes, annotations: annotations
};

Plotly.newPlot('chart', traces, layout, {staticPlot: true, displayModeBar: false});
</script></body></html>
